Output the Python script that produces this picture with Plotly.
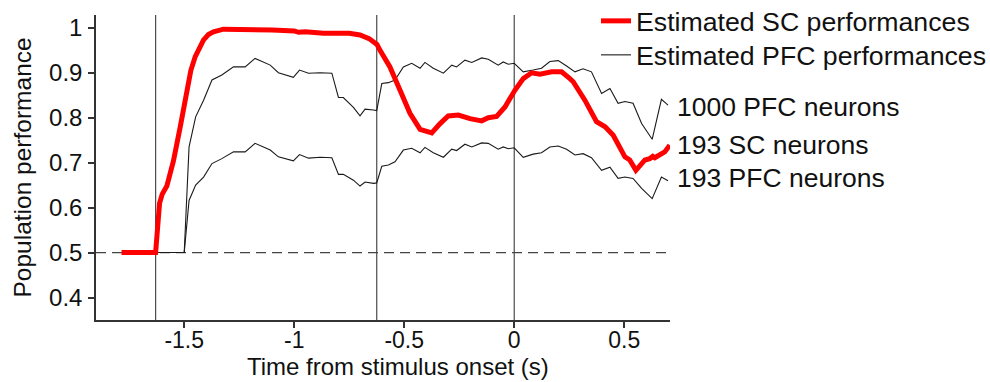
import plotly.graph_objects as go

# ---- data ----
t_sc = [-1.785, -1.63, -1.612, -1.60, -1.579, -1.549, -1.518, -1.488, -1.470, -1.450, -1.430,
        -1.412, -1.390, -1.367, -1.322, -1.20, -1.10, -1.00, -0.98, -0.95, -0.867, -0.75,
        -0.701, -0.66, -0.624, -0.61, -0.565, -0.519, -0.474, -0.428, -0.375, -0.337, -0.300,
        -0.254, -0.201, -0.148, -0.118, -0.080, -0.042, 0.003, 0.041, 0.079, 0.117, 0.170,
        0.215, 0.253, 0.268, 0.321, 0.374, 0.413, 0.450, 0.503, 0.525, 0.553, 0.594, 0.616,
        0.630, 0.639, 0.684, 0.707]
sc_193 = [0.5, 0.5, 0.61, 0.63, 0.648, 0.704, 0.780, 0.866, 0.905, 0.936, 0.958,
          0.973, 0.985, 0.991, 0.997, 0.997, 0.995, 0.993, 0.990, 0.991, 0.988, 0.988,
          0.984, 0.976, 0.963, 0.950, 0.913, 0.861, 0.810, 0.774, 0.766, 0.787, 0.804,
          0.806, 0.798, 0.793, 0.800, 0.803, 0.824, 0.861, 0.887, 0.900, 0.897, 0.902,
          0.902, 0.887, 0.880, 0.839, 0.791, 0.780, 0.761, 0.713, 0.706, 0.683, 0.706, 0.709,
          0.714, 0.711, 0.724, 0.739]

t_pfc = [-1.63, -1.50, -1.478, -1.448, -1.412, -1.374, -1.329, -1.276, -1.223, -1.178, -1.109,
         -1.072, -1.004, -0.976, -0.935, -0.882, -0.829, -0.799, -0.777, -0.731, -0.701,
         -0.678, -0.640, -0.625, -0.602, -0.572, -0.542, -0.504, -0.466, -0.428, -0.406,
         -0.368, -0.322, -0.284, -0.262, -0.224, -0.193, -0.148, -0.118, -0.073, -0.050,
         -0.027, 0.0, 0.041, 0.086, 0.124, 0.162, 0.200, 0.238, 0.276, 0.313, 0.351, 0.397,
         0.435, 0.472, 0.503, 0.540, 0.579, 0.627, 0.669, 0.699]
pfc_1000 = [0.5, 0.5, 0.735, 0.802, 0.839, 0.884, 0.895, 0.913, 0.913, 0.932, 0.917,
            0.900, 0.890, 0.906, 0.899, 0.900, 0.899, 0.845, 0.845, 0.823, 0.804,
            0.819, 0.817, 0.816, 0.876, 0.878, 0.884, 0.913, 0.921, 0.910, 0.923,
            0.910, 0.899, 0.917, 0.913, 0.928, 0.923, 0.933, 0.930, 0.917, 0.924,
            0.919, 0.921, 0.902, 0.906, 0.910, 0.925, 0.927, 0.915, 0.902, 0.909, 0.902, 0.854,
            0.865, 0.832, 0.836, 0.832, 0.787, 0.752, 0.841, 0.828]
pfc_193 = [0.5, 0.5, 0.616, 0.650, 0.668, 0.698, 0.709, 0.724, 0.724, 0.743, 0.728,
           0.713, 0.704, 0.718, 0.710, 0.712, 0.711, 0.674, 0.674, 0.661, 0.648,
           0.657, 0.654, 0.655, 0.692, 0.695, 0.702, 0.728, 0.732, 0.722, 0.734,
           0.722, 0.712, 0.730, 0.727, 0.741, 0.735, 0.744, 0.743, 0.730, 0.735,
           0.731, 0.733, 0.712, 0.719, 0.722, 0.735, 0.737, 0.730, 0.717, 0.720, 0.711, 0.683,
           0.690, 0.665, 0.668, 0.665, 0.643, 0.620, 0.668, 0.660]

event_times = [-1.63, -0.625, 0.0]
chance_level = 0.5

x_tickvals = [-1.5, -1.0, -0.5, 0.0, 0.5]
x_ticktext = ["-1.5", "-1", "-0.5", "0", "0.5"]
y_tickvals = [0.4, 0.5, 0.6, 0.7, 0.8, 0.9, 1.0]
y_ticktext = ["0.4", "0.5", "0.6", "0.7", "0.8", "0.9", "1"]

legend_names = ["Estimated SC performances", "Estimated PFC performances"]
curve_labels = ["1000 PFC neurons", "193 SC neurons", "193 PFC neurons"]
curve_label_y = [0.8236, 0.739, 0.6655]

FONT = "Liberation Sans, Arial, Helvetica, sans-serif"
TXT = "#111111"

fig = go.Figure()

fig.add_trace(go.Scatter(x=t_pfc, y=pfc_1000, mode="lines", name=legend_names[1],
                         line=dict(color="#1a1a1a", width=1.1), showlegend=True,
                         legend="legend2"))
fig.add_trace(go.Scatter(x=t_pfc, y=pfc_193, mode="lines", name="193 PFC",
                         line=dict(color="#1a1a1a", width=1.1), showlegend=False))
fig.add_trace(go.Scatter(x=t_sc, y=sc_193, mode="lines", name=legend_names[0],
                         line=dict(color="#ff0000", width=5), showlegend=True,
                         legend="legend"))

for et in event_times:
    fig.add_vline(x=et, line=dict(color="#4a4a4a", width=1.2), layer="below")
fig.add_hline(y=chance_level, line=dict(color="#444444", width=1.2, dash="10px,6px"),
              layer="below")

for lab, ly in zip(curve_labels, curve_label_y):
    fig.add_annotation(x=1, xref="paper", y=ly, yref="y", text=lab, showarrow=False,
                       xanchor="left", yanchor="middle", xshift=5,
                       font=dict(family=FONT, size=26.5, color=TXT))

fig.add_annotation(x=0, xref="paper", y=0.5, yref="paper", text="Population performance",
                   showarrow=False, textangle=-90, xanchor="center", yanchor="middle",
                   xshift=-74, font=dict(family=FONT, size=24.5, color=TXT))
fig.add_annotation(x=(398 - 96) / 574, xref="paper", y=0, yref="paper",
                   text="Time from stimulus onset (s)", showarrow=False,
                   xanchor="center", yanchor="middle", yshift=-46,
                   font=dict(family=FONT, size=24, color=TXT))

leg_common = dict(x=(596 - 96) / 574, xanchor="left", yanchor="middle",
                  font=dict(family=FONT, size=26.7, color=TXT),
                  bgcolor="rgba(0,0,0,0)", borderwidth=0)

fig.update_layout(
    width=990, height=382,
    margin=dict(l=96, r=320, t=15, b=62, autoexpand=False),
    paper_bgcolor="white", plot_bgcolor="white",
    font=dict(family=FONT, size=23, color=TXT),
    showlegend=True,
    legend=dict(y=(320 - 21) / 305, **leg_common),
    legend2=dict(y=(320 - 55) / 305, **leg_common),
    xaxis=dict(range=[-1.901, 0.708], showgrid=False, zeroline=False,
               showline=True, linecolor="#333333", linewidth=1.5,
               ticks="outside", ticklen=6, tickwidth=1.5, tickcolor="#333333",
               tickvals=x_tickvals, ticktext=x_ticktext, ticklabelstandoff=-7,
               tickfont=dict(family=FONT, size=23, color=TXT)),
    yaxis=dict(range=[0.35, 1.0285], showgrid=False, zeroline=False,
               showline=True, linecolor="#333333", linewidth=1.5,
               ticks="outside", ticklen=6, tickwidth=1.5, tickcolor="#333333",
               tickvals=y_tickvals, ticktext=y_ticktext, ticklabelstandoff=1,
               tickfont=dict(family=FONT, size=24, color=TXT)),
)

fig.write_html("out.html")
